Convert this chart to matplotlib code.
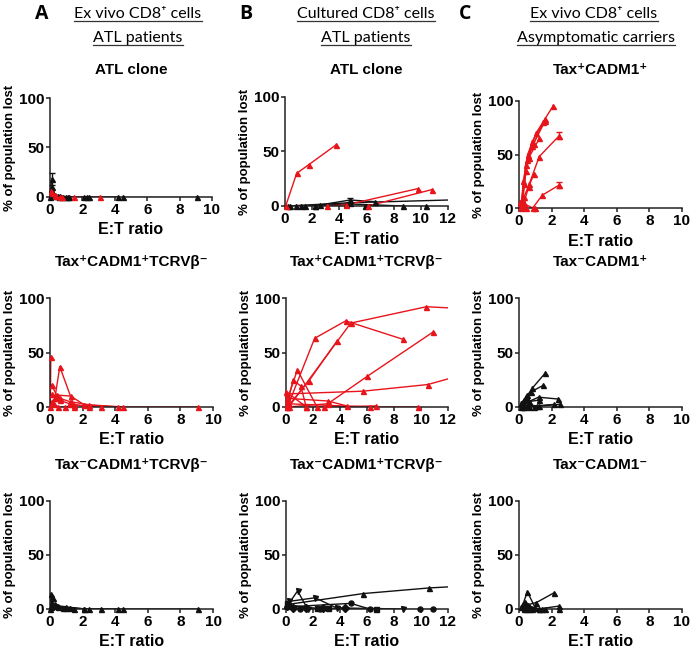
import numpy as np
import matplotlib
matplotlib.use('Agg')
import matplotlib.pyplot as plt
from matplotlib.lines import Line2D

plt.rcParams['font.family'] = ['Liberation Sans', 'DejaVu Sans']

RED = '#e8141c'
BLACK = '#111111'

# ---- data (E:T ratio, % of population lost), one list per line ----
a1_black_x = [[0.1, 0.05, 0.02], [9.1, 4.5, 2.3, 1.1, 0.55], [4.2, 2.1, 1.0, 0.5, 0.25],
              [2.4, 1.2, 0.6, 0.3, 0.15], [0.8, 0.4, 0.2, 0.1]]
a1_black_y = [[18, 8, 0], [0, 0, 0, 0, 0], [0, 0, 0, 1, 2], [0, 0, 1, 2, 4], [0, 1, 3, 10]]
a1_black_err = [[6, 0, 0], None, None, None, None]
a1_red_x = [[3.1, 1.5, 0.75, 0.4], [0.6, 0.3, 0.15, 0.07]]
a1_red_y = [[0, 0, 0, 1], [0, 2, 4, 6]]

a2_x = [[0.05, 0.02], [1.5, 0.6, 0.3, 0.1], [4.2, 2.1, 1.27, 0.4, 0.1], [9.1, 4.5, 2.4, 1.2, 0.6],
        [3.1, 1.5, 0.95, 0.5, 0.25], [2.4, 1.2, 0.6, 0.3, 0.15]]
a2_y = [[46, 0], [0, 37, 8, 5], [0, 2, 10, 11, 20], [0, 0, 2, 5, 8], [0, 2, 0, 0, 3], [0, 3, 6, 8, 12]]

a3_x = [[0.1, 0.05, 0.02], [2.1, 1.0, 0.5, 0.3], [9.1, 4.5, 2.4, 1.2], [4.2, 2.1, 1.0, 0.5],
        [3.1, 1.5, 0.8, 0.4], [0.2, 0.1, 0.05]]
a3_y = [[3, 14, 0], [0, 2, 3, 5], [0, 0, 0, 1], [0, 0, 1, 2], [0, 0, 1, 3], [10, 6, 2]]

b1_red_x = [[3.75, 1.76, 0.86, 0.05], [9.8, 4.5, 3.06], [10.8, 6.1]]
b1_red_y = [[56, 38, 30, 0], [16, 1, 0], [15, 0]]
b1_black_x = [[13.5, 4.8, 0.2], [6.6, 4.8, 2.6, 1.2], [10.4, 5.9, 2.2, 1.5, 0.4], [8.7, 4.5, 2.2, 0.8]]
b1_black_y = [[6, 3, 0], [4, 5.5, 1, 0], [0, 0, 0, 0, 0], [0, 2, 0, 0]]
b1_black_err = [None, [0, 2, 0, 0], None, None]

b2_x = [[0.2, 2.12, 4.42, 8.69], [0.1, 1.7, 3.8], [0.2, 4.8, 10.4, 13.5], [0.05, 0.84, 2.3],
        [0.05, 0.54, 1.1, 1.5], [0.1, 3.1, 6.0, 10.86], [0.05, 5.7, 10.5, 13.5], [0.05, 3.1, 4.5],
        [0.1, 6.2, 9.8], [0.02, 1.5, 2.8, 6.7]]
b2_y = [[3, 63, 79, 62], [0, 24, 61], [0, 77, 92, 90], [5, 34, 0], [2, 25, 19, 0],
        [0, 3, 28, 68.5], [12, 14.5, 20.6, 31], [8, 5.5, 1], [3, 0, 0], [14, 0, 0, 1]]

b3_markers = ['^', 'v', 'v', 'o', 'o', 's', 'D']
b3_x = [[0.02, 5.73, 10.6, 13.5], [0.05, 0.86, 1.6], [0.2, 2.15, 3.75, 8.7], [0.1, 4.8, 6.2],
        [1.0, 2.5, 9.9, 10.9], [0.05, 0.17, 2.3, 3.1, 6.7], [0.5, 1.5, 2.76, 4.4]]
b3_y = [[4, 14.3, 19.5, 21.5], [2, 16.8, 0], [7, 10.4, 1, 0], [2, 5.2, 0], [0, 0, 0, 0],
        [6, 3.7, 0.5, 0.5, 0], [1, 0.5, 0.5, 0.5]]

c1_x = [[0.13, 0.27, 0.53, 1.05, 2.1], [0.2, 0.4, 0.8, 1.6], [0.2, 0.4, 0.8, 1.6], [0.15, 0.3, 0.6, 1.25],
        [0.15, 0.3, 0.62, 1.24, 2.47], [0.3, 0.6, 0.92], [0.05, 0.84, 1.43, 2.47], [0.25, 0.5, 0.9, 1.5],
        [0.1, 0.45, 1.0]]
c1_y = [[3, 25, 50, 70, 95.6], [8, 40, 62, 83], [5, 35, 58, 81], [5, 22, 47, 65], [2, 10, 22, 48, 67.6],
        [5, 20, 32], [6, 0, 12, 21.5], [10, 45, 60, 80], [0, 0, 0]]
c1_err = [None, None, None, None, [0, 0, 0, 0, 3.5], None, [0, 0, 0, 3], None, None]

c2_x = [[0.2, 0.4, 0.8, 1.6], [0.19, 0.37, 0.75, 1.5], [0.3, 0.6, 1.2, 2.41], [0.15, 0.3, 0.62, 1.25],
        [0.27, 0.54, 1.08, 2.17], [0.31, 0.62, 1.25, 2.5], [0.1, 0.2, 0.47, 0.9]]
c2_y = [[3, 8, 17, 31], [2, 6, 14, 20], [1, 5, 9, 7.3], [4, 6.4, 5, 6.4], [0, 2, 1, 2.4],
        [0, 0, 1, 2.4], [0, 4, 11, 0]]

c3_x = [[0.13, 0.26, 0.51, 1.0], [0.27, 0.54, 1.07, 2.15], [0.3, 0.6, 1.2, 2.45], [0.3, 0.6, 1.2, 2.45],
        [0.2, 0.37, 0.7, 1.4], [0.4, 0.8, 1.6]]
c3_y = [[2, 5, 16, 1], [2, 4, 6, 15], [1, 3, 0, 2.7], [0, 0, 0, 0], [3, 6.7, 1, 0], [0, 0, 0]]

titles = [["ATL clone", "ATL clone", "Tax\u207aCADM1\u207a"],
          ["Tax\u207aCADM1\u207aTCRV\u03b2\u207b", "Tax\u207aCADM1\u207aTCRV\u03b2\u207b", "Tax\u207bCADM1\u207a"],
          ["Tax\u207bCADM1\u207aTCRV\u03b2\u207b", "Tax\u207bCADM1\u207aTCRV\u03b2\u207b", "Tax\u207bCADM1\u207b"]]
xmaxes = [10, 12, 10]

W, H = 692, 650
# axes boxes in pixels: left, right, top, bottom
boxes = [[(50, 212, 98, 197), (285, 448, 97, 206), (519, 682, 101, 208)],
         [(50, 213, 298, 407), (286, 448, 298, 407), (519, 682, 298, 407)],
         [(50, 213, 501, 609), (286, 448, 501, 609), (519, 682, 501, 609)]]
title_y = [70, 262, 465]
xlab_y = [[229, 239, 241], [440, 440, 440], [642, 642, 642]]

fig = plt.figure(figsize=(W / 100, H / 100), dpi=100)


def draw(ax, xs, ys, color, marker='^', err=None, xmax=10):
    xs = np.array(xs, float); ys = np.array(ys, float)
    ax.plot(xs, ys, '-', color=color, lw=1.0, zorder=2)
    keep = xs <= xmax
    ax.plot(xs[keep], ys[keep], ls='none', marker=marker, ms=3.6, color=color,
            clip_on=False, zorder=3)
    if err is not None:
        e = np.array(err, float)
        m = e > 0
        ax.errorbar(xs[m], ys[m], yerr=e[m], fmt='none', ecolor=color, elinewidth=1.0,
                    capsize=2.5, capthick=1.0, clip_on=False, zorder=3)


axes = [[None] * 3 for _ in range(3)]
for r in range(3):
    for c in range(3):
        l, rt, t, b = boxes[r][c]
        ax = fig.add_axes([l / W, 1 - b / H, (rt - l) / W, (b - t) / H])
        axes[r][c] = ax
        xmax = xmaxes[c]
        ax.set_xlim(0, xmax)
        ax.set_ylim(0, 100)
        ax.set_xticks(np.arange(0, xmax + 1, 2))
        ax.set_yticks([0, 50, 100])
        for s in ['top', 'right']:
            ax.spines[s].set_visible(False)
        for s in ['left', 'bottom']:
            ax.spines[s].set_linewidth(1.1)
            ax.spines[s].set_color('#222222')
        ax.tick_params(direction='out', length=3, width=1.1, color='#222222', pad=1.2,
                       labelsize=11)
        for lab in ax.get_xticklabels() + ax.get_yticklabels():
            lab.set_fontweight('bold')
        ax.patch.set_alpha(0)
        cx = (l + rt) / 2
        fig.text(cx / W, 1 - title_y[r] / H, titles[r][c], ha='center', va='center',
                 fontsize=11, fontweight='bold')
        fig.text((l - 40) / W, 1 - ((t + b) / 2) / H, "% of population lost", rotation=90,
                 ha='center', va='center', fontsize=9.5, fontweight='bold')
        fig.text(cx / W, 1 - xlab_y[r][c] / H, "E:T ratio", ha='center', va='center',
                 fontsize=11.5, fontweight='bold')

ax = axes[0][0]
for xs, ys, e in zip(a1_black_x, a1_black_y, a1_black_err):
    draw(ax, xs, ys, BLACK, err=e)
for xs, ys in zip(a1_red_x, a1_red_y):
    draw(ax, xs, ys, RED)
for xs, ys in zip(a2_x, a2_y):
    draw(axes[1][0], xs, ys, RED)
for xs, ys in zip(a3_x, a3_y):
    draw(axes[2][0], xs, ys, BLACK)

ax = axes[0][1]
for xs, ys, e in zip(b1_black_x, b1_black_y, b1_black_err):
    draw(ax, xs, ys, BLACK, err=e, xmax=12)
for xs, ys in zip(b1_red_x, b1_red_y):
    draw(ax, xs, ys, RED, xmax=12)
for xs, ys in zip(b2_x, b2_y):
    draw(axes[1][1], xs, ys, RED, xmax=12)
for mk, xs, ys in zip(b3_markers, b3_x, b3_y):
    draw(axes[2][1], xs, ys, BLACK, marker=mk, xmax=12)

for xs, ys, e in zip(c1_x, c1_y, c1_err):
    draw(axes[0][2], xs, ys, RED, err=e)
for xs, ys in zip(c2_x, c2_y):
    draw(axes[1][2], xs, ys, BLACK)
for xs, ys in zip(c3_x, c3_y):
    draw(axes[2][2], xs, ys, BLACK)

# headers
hfont = ['Lato', 'DejaVu Sans']
for letter, lx in [('A', 42), ('B', 246), ('C', 465)]:
    fig.text(lx / W, 1 - 14 / H, letter, ha='center', va='center', fontsize=14,
             fontweight='bold', family=['Open Sans', 'DejaVu Sans'])
heads = [("Ex vivo CD8\u207a cells", 138, 14), ("ATL patients", 138, 38),
         ("Cultured CD8\u207a cells", 366, 14), ("ATL patients", 366, 38),
         ("Ex vivo CD8\u207a cells", 594, 14), ("Asymptomatic carriers", 596, 38)]
htexts = []
for s, hx, hy in heads:
    htexts.append(fig.text(hx / W, 1 - hy / H, s, ha='center', va='center', fontsize=11.5,
                           family=hfont))

fig.canvas.draw()
rend = fig.canvas.get_renderer()
for t in htexts:
    bb = t.get_window_extent(rend).transformed(fig.transFigure.inverted())
    fig.add_artist(Line2D([bb.x0, bb.x1], [bb.y0, bb.y0], transform=fig.transFigure,
                          color='#333333', lw=0.9))

fig.savefig('out.png', dpi=100)
